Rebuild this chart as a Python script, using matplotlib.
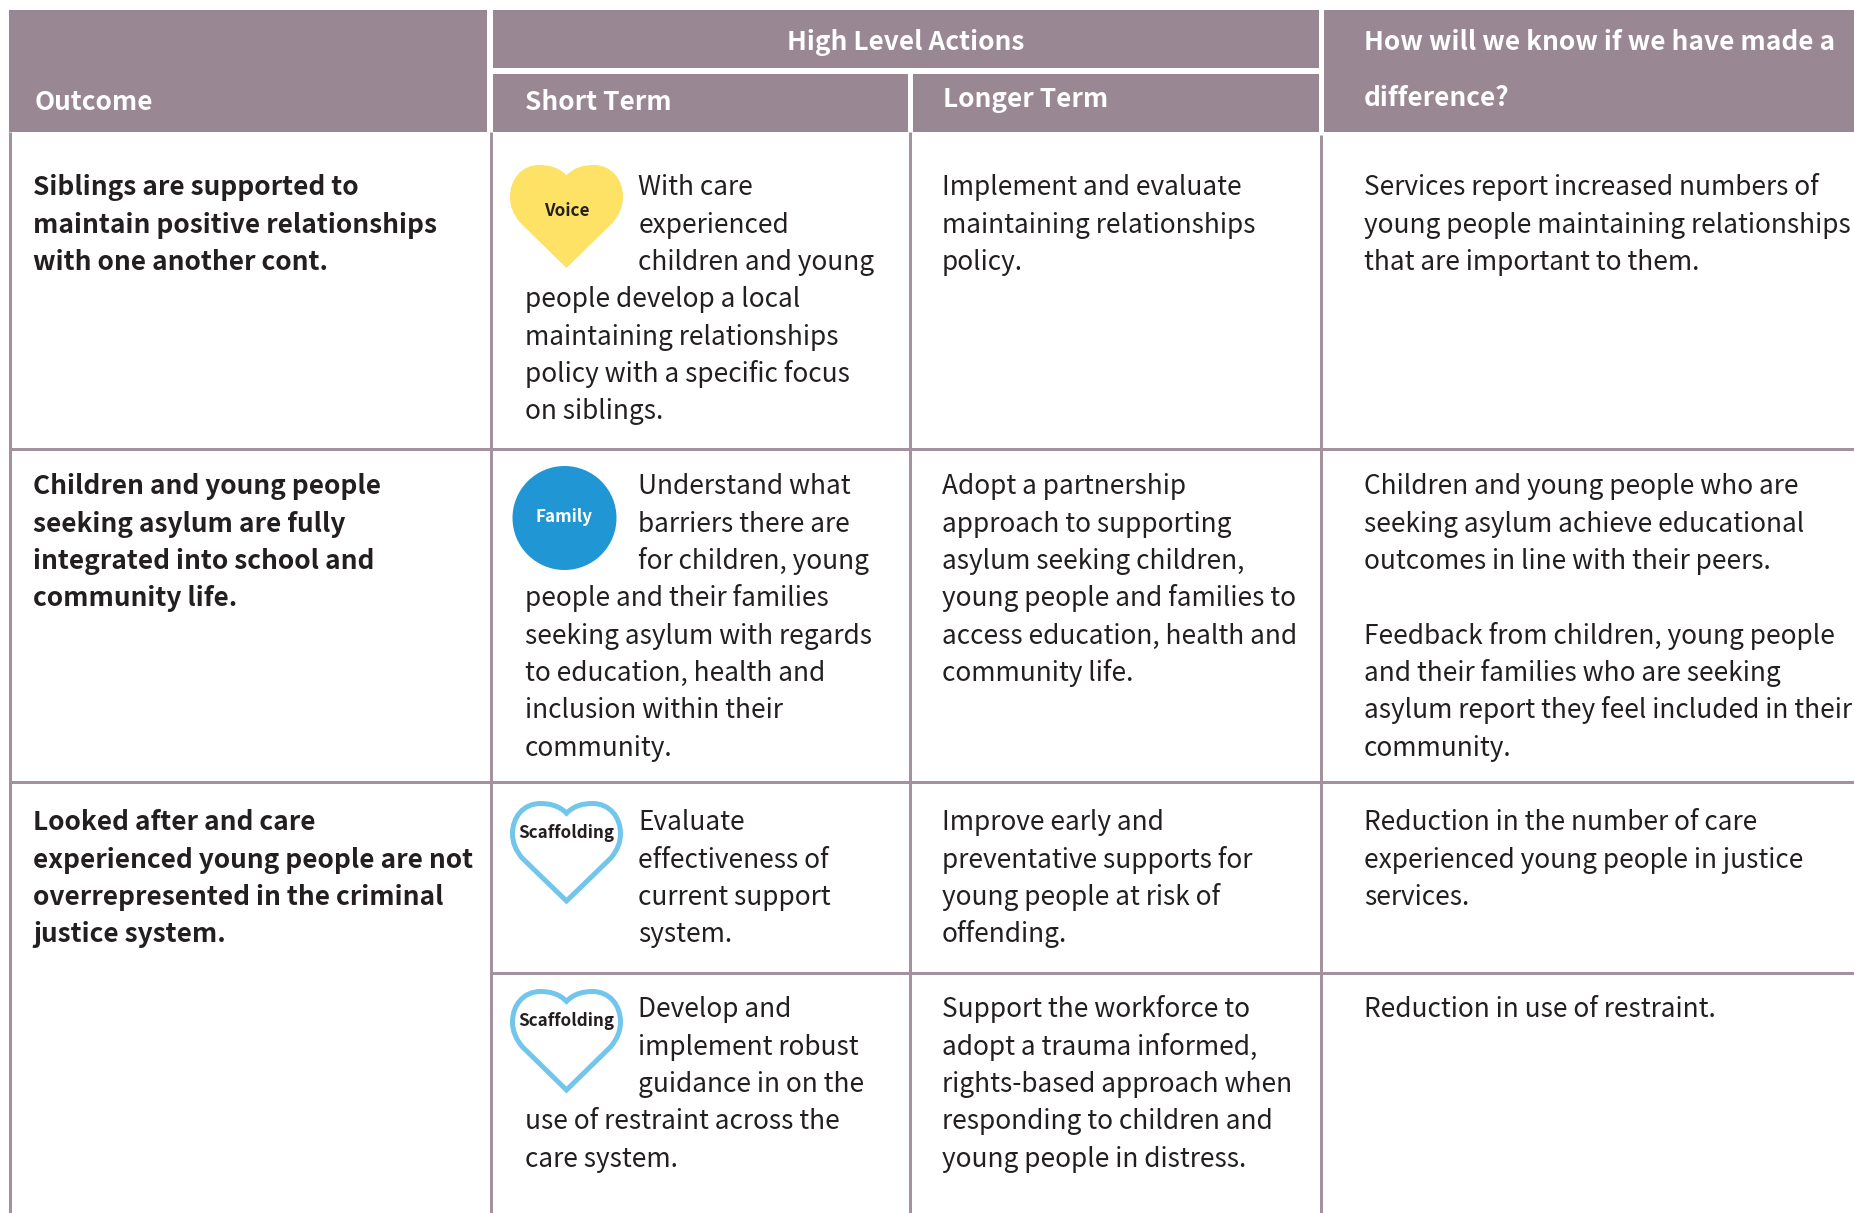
"""
purpose: outcomes table with high level actions and the badge icons next to the short term text
"""
import matplotlib.pyplot as plt
import matplotlib as mpl
from matplotlib.patches import Rectangle, Circle, PathPatch
from matplotlib.path import Path

mpl.rcParams['font.family'] = ['Noto Sans CJK SC', 'DejaVu Sans']

header_fill = '#998793'
grid_colour = '#a3929d'
text_colour = '#231f20'

outcomes = [
    ["Siblings are supported to", "maintain positive relationships", "with one another cont."],
    ["Children and young people", "seeking asylum are fully", "integrated into school and", "community life."],
    ["Looked after and care", "experienced young people are not", "overrepresented in the criminal", "justice system."],
    [],
]
short_term = [
    ["With care", "experienced", "children and young", "people develop a local", "maintaining relationships",
     "policy with a specific focus", "on siblings."],
    ["Understand what", "barriers there are", "for children, young", "people and their families",
     "seeking asylum with regards", "to education, health and", "inclusion within their", "community."],
    ["Evaluate", "effectiveness of", "current support", "system."],
    ["Develop and", "implement robust", "guidance in on the", "use of restraint across the", "care system."],
]
longer_term = [
    ["Implement and evaluate", "maintaining relationships", "policy."],
    ["Adopt a partnership", "approach to supporting", "asylum seeking children,", "young people and families to",
     "access education, health and", "community life."],
    ["Improve early and", "preventative supports for", "young people at risk of", "offending."],
    ["Support the workforce to", "adopt a trauma informed,", "rights-based approach when",
     "responding to children and", "young people in distress."],
]
measures = [
    ["Services report increased numbers of", "young people maintaining relationships", "that are important to them."],
    ["Children and young people who are", "seeking asylum achieve educational", "outcomes in line with their peers.", "",
     "Feedback from children, young people", "and their families who are seeking",
     "asylum report they feel included in their", "community."],
    ["Reduction in the number of care", "experienced young people in justice", "services."],
    ["Reduction in use of restraint."],
]
badges = ["Voice", "Family", "Scaffolding", "Scaffolding"]

# layout in pixels of the reference
first_baseline = [195.2, 494.2, 830.2, 1017.2]
line_gap = 37.35
col_x = [33, 525, 942, 1364]
wrap_x = 638.5
font_size = 18.9

fig = plt.figure(figsize=(18.54, 12.13), dpi=100)
ax = fig.add_axes([0, 0, 1, 1])
ax.set_xlim(0, 1854)
ax.set_ylim(1213, 0)
ax.axis('off')


def box(x0, y0, x1, y1):
    ax.add_patch(Rectangle((x0, y0), x1 - x0, y1 - y0, facecolor=header_fill, edgecolor='none', zorder=2))


def heart(x0, y0, x1, y1, **kw):
    w = x1 - x0
    h = y1 - y0
    pts = [(0.5, 0.10), (0.57, 0.02), (0.66, 0), (0.74, 0), (0.90, 0), (1, 0.14), (1, 0.31),
           (1, 0.40), (0.97, 0.48), (0.91, 0.56), (0.5, 1), (0.09, 0.56),
           (0.03, 0.48), (0, 0.40), (0, 0.31), (0, 0.14), (0.10, 0), (0.26, 0),
           (0.34, 0), (0.43, 0.02), (0.5, 0.10), (0.5, 0.10)]
    codes = [Path.MOVETO] + [Path.CURVE4] * 9 + [Path.LINETO, Path.LINETO] + [Path.CURVE4] * 9 + [Path.CLOSEPOLY]
    verts = [(x0 + a * w, y0 + b * h) for a, b in pts]
    ax.add_patch(PathPatch(Path(verts, codes), zorder=3, **kw))


"header boxes"
box(9, 10, 487, 132)
box(493, 10, 1319, 68)
box(493, 74, 908, 132)
box(913, 74, 1319, 132)
box(1324, 10, 1854, 132)

"grid lines, px converted to points for the widths"
lw = 3 * 72 / 100
ax.plot([10.5, 10.5], [132, 1213], color=grid_colour, lw=lw, solid_capstyle='butt', zorder=1)
ax.plot([491.5, 491.5], [132, 1213], color=grid_colour, lw=lw, solid_capstyle='butt', zorder=1)
ax.plot([910.5, 910.5], [132, 1213], color=grid_colour, lw=lw, solid_capstyle='butt', zorder=1)
ax.plot([1321.5, 1321.5], [135, 1213], color=grid_colour, lw=lw, solid_capstyle='butt', zorder=1)
ax.plot([9, 1854], [449, 449], color=grid_colour, lw=lw, solid_capstyle='butt', zorder=1)
ax.plot([9, 1854], [782, 782], color=grid_colour, lw=lw, solid_capstyle='butt', zorder=1)
ax.plot([491, 1854], [973, 973], color=grid_colour, lw=lw, solid_capstyle='butt', zorder=1)

"header text"
head = dict(color='white', fontweight='bold', fontsize=font_size, va='baseline', zorder=4)
ax.text(35, 110, "Outcome", **head)
ax.text(906, 50, "High Level Actions", ha='center', **head)
ax.text(525, 110, "Short Term", **head)
ax.text(943, 107, "Longer Term", **head)
ax.text(1364, 50, "How will we know if we have made a", **head)
ax.text(1364, 106, "difference?", **head)

"body text"
next_to_icon = [3, 3, 4, 3]
for row in range(4):
    y = first_baseline[row]
    for i, line in enumerate(outcomes[row]):
        ax.text(col_x[0], y + i * line_gap, line, fontweight='bold', fontsize=font_size, color=text_colour, va='baseline')
    for i, line in enumerate(short_term[row]):
        x = wrap_x if i < next_to_icon[row] else col_x[1]
        ax.text(x, y + i * line_gap, line, fontsize=font_size, color=text_colour, va='baseline')
    for i, line in enumerate(longer_term[row]):
        ax.text(col_x[2], y + i * line_gap, line, fontsize=font_size, color=text_colour, va='baseline')
    for i, line in enumerate(measures[row]):
        ax.text(col_x[3], y + i * line_gap, line, fontsize=font_size, color=text_colour, va='baseline')

"badges"
badge = dict(fontweight='bold', ha='center', va='center', zorder=5)
heart(510, 165, 623, 268, facecolor='#fde265', edgecolor='none')
ax.text(566.5, 211, badges[0], color=text_colour, fontsize=12.3, **badge)

ax.add_patch(Circle((564.5, 518), 52, facecolor='#2196d5', edgecolor='none', zorder=3))
ax.text(564, 517, badges[1], color='white', fontsize=12.3, **badge)

heart(512.5, 803.5, 620.5, 901, facecolor='white', edgecolor='#72c6ec', lw=3.6)
ax.text(566.5, 833, badges[2], color=text_colour, fontsize=12.3, **badge)

heart(512.5, 991.5, 620.5, 1090, facecolor='white', edgecolor='#72c6ec', lw=3.6)
ax.text(566.5, 1021, badges[3], color=text_colour, fontsize=12.3, **badge)

fig.savefig('out.png', dpi=100, facecolor='white')
